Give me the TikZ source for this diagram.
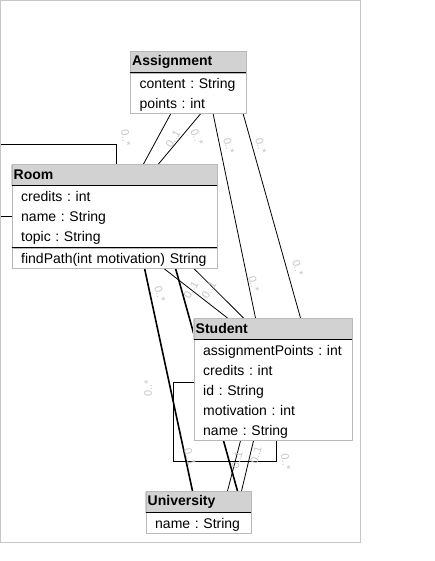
\documentclass[tikz,border=0pt]{standalone}
\usepackage{fontspec}
\setmainfont{Liberation Sans}
\usetikzlibrary{positioning}
\pgfdeclarelayer{background}
\pgfsetlayers{background,main}

\begin{document}
\begin{tikzpicture}[x=1pt,y=-1pt]
  \tikzset{
    head/.style={draw=gray!55, anchor=north west, text width=#1, minimum height=21pt,
      inner xsep=2pt, inner ysep=0pt, align=left, font=\fontsize{14}{20}\selectfont\bfseries,
      left color=gray!35, middle color=gray!12, right color=gray!35},
    body/.style={draw=gray!55, fill=white, text width=#1, inner xsep=9.5pt, inner ysep=0pt,
      align=left, font=\fontsize{14}{20}\selectfont\frenchspacing,
      execute at begin node=\rule{0pt}{13.5pt}},
    sep/.style={line width=1pt},
    assoc/.style={line width=0.8pt},
    strong/.style={line width=1.6pt},
    mult/.style={font=\fontsize{11}{12}\selectfont, text=gray!45, inner sep=0pt},
  }
  \useasboundingbox (0,0) rectangle (434,561);
  \draw[gray!45] (0.5,0.5) rectangle (360,542);

  \node[head=112pt] (assignment) at (130,51.5) {Assignment};
  \node[body=97pt, minimum height=40pt, below=0pt of assignment] (assignmentattr)
    {content : String\\points : int};

  \node[head=201pt] (room) at (11.5,164) {Room};
  \node[body=186pt, minimum height=62pt, below=0pt of room] (roomattr)
    {credits : int\\name : String\\topic : String};
  \node[body=186pt, minimum height=20pt, below=0pt of roomattr] (roomops)
    {findPath(int motivation) String};

  \node[head=154pt] (student) at (193.5,318) {Student};
  \node[body=139pt, minimum height=101pt, below=0pt of student] (studentattr)
    {assignmentPoints : int\\credits : int\\id : String\\motivation : int\\name : String};

  \node[head=101pt] (university) at (145.5,491) {University};
  \node[body=86pt, minimum height=21pt, below=0pt of university] (universityattr)
    {name : String};

  \draw[sep] (assignment.south west) -- (assignment.south east);
  \draw[sep] (room.south west) -- (room.south east);
  \draw[sep] (roomattr.south west) -- (roomattr.south east);
  \draw[sep] (student.south west) -- (student.south east);
  \draw[sep] (university.south west) -- (university.south east);

  \begin{pgfonlayer}{background}
    \begin{scope}
      \clip (0.5,0.5) rectangle (360,542);
      \draw[assoc] (roomattr.west) -| (-5,144) -| ([xshift=105pt]room.north west);
    \end{scope}
    \draw[assoc] ([xshift=41pt]assignmentattr.south west) -- ([xshift=132pt]room.north west);
    \draw[assoc] ([xshift=71pt]assignmentattr.south west) -- ([xshift=147pt]room.north west);
    \draw[assoc] ([xshift=83pt]assignmentattr.south west) -- ([xshift=62pt]student.north west);
    \draw[assoc] ([xshift=113pt]assignmentattr.south west) -- ([xshift=107pt]student.north west);
    \draw[assoc] ([xshift=152pt]roomops.south west) -- ([xshift=34pt]student.north west);
    \draw[assoc] ([xshift=182pt]roomops.south west) -- ([xshift=50pt]student.north west);
    \draw[strong] ([xshift=133pt]roomops.south west) -- ([xshift=47pt]university.north west);
    \draw[strong] ([xshift=164pt]roomops.south west) -- ([xshift=92pt]university.north west);
    \draw[assoc] ([xshift=47pt]studentattr.south west) -- ([xshift=82pt]university.north west);
    \draw[assoc] ([xshift=60pt]studentattr.south west) -- ([xshift=96pt]university.north west);
    \draw[assoc] ([yshift=7.5pt]studentattr.west) -| (173,461) -| ([xshift=83pt]studentattr.south west);
  \end{pgfonlayer}

  \foreach \px/\py/\r/\t [count=\i] in {
      126/138/-80/0..*, 173/139/60/0..1, 197/137/-65/0..*, 229/146/-75/0..*,
      261/146/-75/0..*, 160/294/-75/0..*, 191/290/60/0..1, 209/290/60/0..1,
      254/284/-75/0..*, 298/268/-75/0..*, 148/388/90/0..*, 190/457/-75/0..1,
      237/460/75/0..1, 256/455/75/0..1, 286/462/-80/0..*}
    \node[mult, rotate=\r] (m\i) at (\px,\py) {\t};
\end{tikzpicture}
\end{document}
